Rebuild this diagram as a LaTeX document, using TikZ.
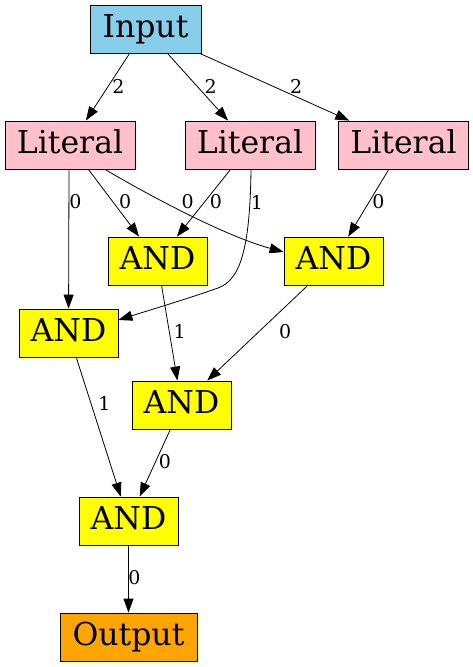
\documentclass[tikz,border=0pt]{standalone}
\usepackage{fontspec}
\setmainfont{DejaVu Serif}
\usetikzlibrary{arrows.meta}
\definecolor{skyfill}{HTML}{87CEEB}
\definecolor{pinkfill}{HTML}{FFC0CB}
\definecolor{gatefill}{HTML}{FFFF00}
\definecolor{outfill}{HTML}{FFA500}

\begin{document}
\begin{tikzpicture}[
 x=1pt,y=-1pt,
 gbox/.style={draw=black,line width=.8pt,minimum height=48pt,inner sep=0pt,
 text height=23pt,text depth=7pt,font=\fontsize{31.5}{34}\selectfont},
 ginput/.style={gbox,fill=skyfill,minimum width=111pt},
 gliteral/.style={gbox,fill=pinkfill,minimum width=130pt},
 ggate/.style={gbox,fill=gatefill,minimum width=99pt},
 goutput/.style={gbox,fill=outfill,minimum width=137pt},
 glabel/.style={font=\fontsize{19}{19}\selectfont,inner sep=0pt},
 gflow/.style={-{Triangle[length=14pt,width=10pt]},line width=.8pt}]
\useasboundingbox (0,0) rectangle (473,667);
\node[ginput] (input) at (145.5,29) {Input};
\node[gliteral] (litA) at (70,145) {Literal};
\node[gliteral] (litB) at (250,145) {Literal};
\node[gliteral] (litC) at (403.5,145) {Literal};
\node[ggate] (andA) at (157.5,261) {AND};
\node[ggate] (andB) at (333.5,261) {AND};
\node[ggate] (andC) at (68.5,333) {AND};
\node[ggate] (andD) at (181.5,405) {AND};
\node[ggate] (andE) at (128.5,521) {AND};
\node[goutput] (output) at (128.5,637) {Output};
\draw[gflow] (input) -- (litA) node[glabel,pos=.485,xshift=10pt] {2};
\draw[gflow] (input) -- (litB) node[glabel,pos=.485,xshift=13.7pt] {2};
\draw[gflow] (input) -- (litC) node[glabel,pos=.49,xshift=23pt] {2};
\draw[gflow] ([xshift=-1pt]litA.south) -- (andC) node[glabel,pos=.232,xshift=6.5pt] {0};
\draw[gflow] (litA) -- (andA) node[glabel,pos=.478,xshift=12.4pt] {0};
\draw[gflow] ([xshift=35pt]litA.south) .. controls (150,196) and (225,236) .. ([yshift=9pt]andB.west)
 node[glabel,pos=.5,xshift=-1.5pt,yshift=13pt] {0};
\draw[gflow] (litB) -- (andA) node[glabel,pos=.478,xshift=11pt] {0};
\draw[gflow] ([xshift=1pt]litB.south) .. controls (250,250) and (240,280) .. (218,288)
 node[glabel,pos=.15,xshift=7pt] {1}
 .. controls (190,298) and (150,310) .. ([yshift=13pt]andC.east);
\draw[gflow] (litC) -- (andB) node[glabel,pos=.478,xshift=9pt] {0};
\draw[gflow] (andA) -- (andD) node[glabel,pos=.484,xshift=10.3pt] {1};
\draw[gflow] (andB) -- (andD) node[glabel,pos=.484,xshift=26pt] {0};
\draw[gflow] (andC) -- (andE) node[glabel,pos=.332,xshift=13.5pt] {1};
\draw[gflow] (andD) -- (andE) node[glabel,pos=.485,xshift=9.5pt] {0};
\draw[gflow] (andE) -- (output) node[glabel,pos=.478,xshift=6pt] {0};
\end{tikzpicture}
\end{document}
